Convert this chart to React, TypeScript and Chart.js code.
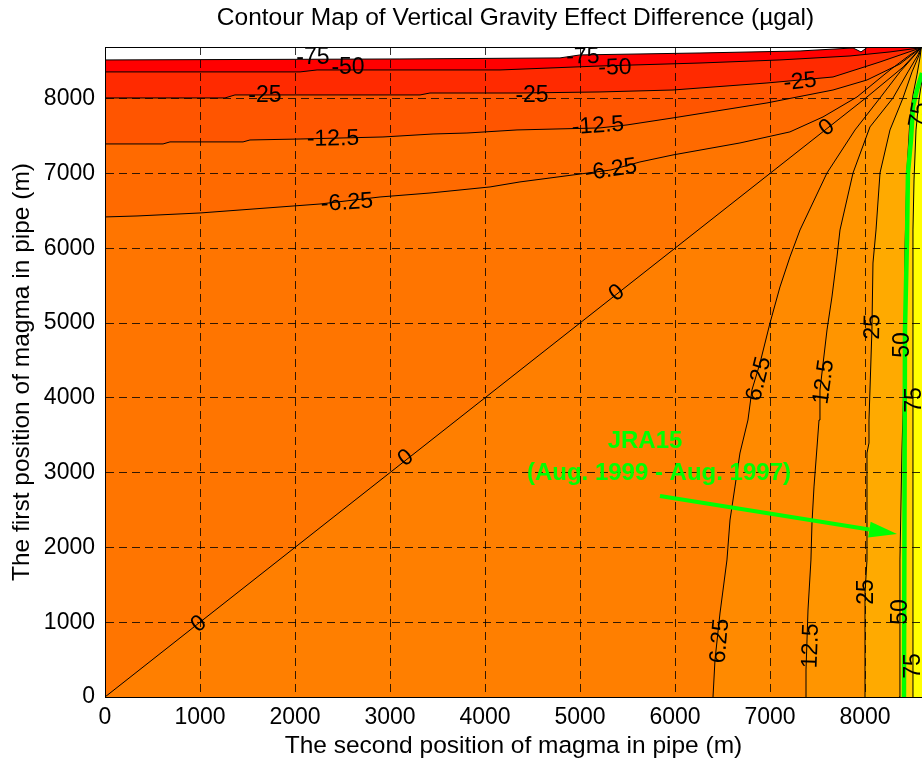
import React, { useEffect, useRef } from 'react';
import { Chart, registerables } from 'chart.js';

Chart.register(...registerables);

const FONT = '"Liberation Sans", Arial, Helvetica, sans-serif';

type Pt = [number, number];

// axis extents (m)
const X_MAX = 8600;
const Y_MAX = 8690;
const GRID_MAX = 8700;
const X_TICKS = [0, 1000, 2000, 3000, 4000, 5000, 6000, 7000, 8000];
const Y_TICKS = [0, 1000, 2000, 3000, 4000, 5000, 6000, 7000, 8000];

const TITLE = 'Contour Map of Vertical Gravity Effect Difference (µgal)';
const X_TITLE = 'The second position of magma in pipe (m)';
const Y_TITLE = 'The first position of magma in pipe (m)';

// contour levels (µgal) and fill colour of the region above each level
const LEVELS = [-75, -50, -25, -12.5, -6.25, 0, 6.25, 12.5, 25, 50, 75];
const LEVEL_COLORS = [
  '#FF0000', '#FF2A00', '#FF5500', '#FF6A00', '#FF7500', '#FF7F00',
  '#FF8A00', '#FF9500', '#FFAA00', '#FFD400', '#FFFF00',
];

// contour lines, [second position, first position]
const lineM75: Pt[] = [[0, 8517], [3105, 8530], [4789, 8544], [5000, 8584], [6263, 8610], [7316, 8637], [7874, 8677], [7958, 8624], [8052, 8710]];
const lineM50: Pt[] = [[0, 8357], [2053, 8357], [2232, 8383], [4158, 8383], [5210, 8436], [6263, 8476], [7105, 8517], [7842, 8570], [8263, 8624], [8590, 8680]];
const lineM25: Pt[] = [[0, 8009], [1263, 8009], [1368, 8049], [3316, 8049], [3421, 8075], [4368, 8075], [5210, 8089], [5979, 8115], [6968, 8209], [7663, 8289], [8158, 8490], [8590, 8680]];
const lineM12_5: Pt[] = [[0, 7394], [611, 7394], [684, 7421], [1453, 7421], [1526, 7447], [2053, 7460], [2926, 7487], [3453, 7527], [3810, 7540], [4337, 7581], [5210, 7608], [5495, 7648], [5979, 7742], [6968, 7942], [7663, 8115], [8021, 8249], [8368, 8463], [8590, 8680]];
const lineM6_25: Pt[] = [[0, 6418], [337, 6431], [1000, 6471], [1421, 6511], [1979, 6564], [2263, 6591], [2895, 6685], [3421, 6738], [4053, 6819], [4368, 6886], [5326, 7046], [5631, 7153], [5979, 7247], [6684, 7407], [7210, 7555], [7558, 7755], [7916, 8022], [8263, 8383], [8473, 8584], [8590, 8680]];
const line0: Pt[] = [[0, 0], [1000, 1000], [2000, 2000], [3000, 3000], [4000, 4000], [5000, 5000], [6000, 6000], [7000, 7000], [8000, 8000], [8400, 8420], [8590, 8680]];
const lineP6_25: Pt[] = [[6400, 0], [6421, 495], [6474, 1123], [6547, 1832], [6579, 2366], [6631, 2808], [6684, 3262], [6768, 3703], [6810, 4104], [6895, 4465], [7000, 5000], [7105, 5482], [7210, 5883], [7316, 6244], [7600, 7006], [7895, 7581], [8158, 8009], [8368, 8357], [8526, 8584], [8590, 8680]];
const lineP12_5: Pt[] = [[7379, 0], [7379, 361], [7400, 1163], [7431, 1832], [7442, 2326], [7463, 2808], [7495, 3342], [7516, 3703], [7526, 4104], [7600, 4907], [7652, 5348], [7705, 5883], [7737, 6244], [7874, 7006], [8052, 7621], [8295, 8009], [8452, 8357], [8558, 8584], [8590, 8680]];
const lineP25: Pt[] = [[8000, 0], [8000, 1390], [8021, 1832], [8021, 3262], [8042, 3396], [8042, 3703], [8073, 4907], [8084, 5802], [8116, 6244], [8158, 7006], [8263, 7581], [8400, 8009], [8495, 8357], [8570, 8584], [8590, 8680]];
const lineP50: Pt[] = [[8358, 0], [8368, 1832], [8389, 3302], [8410, 4238], [8421, 5976], [8442, 7046], [8473, 7714], [8505, 8049], [8547, 8317], [8580, 8557], [8592, 8680]];
const lineP75: Pt[] = [[8505, 0], [8505, 6244], [8516, 6912], [8537, 7581], [8568, 7982], [8600, 8249], [8620, 8680]];

const CONTOURS: Pt[][] = [lineM75, lineM50, lineM25, lineM12_5, lineM6_25, line0, lineP6_25, lineP12_5, lineP25, lineP50, lineP75];

// observed JRA15 line
const greenLine: Pt[] = [[8410, 0], [8421, 4907], [8442, 6110], [8452, 7006], [8484, 7447], [8505, 7888], [8547, 8115], [8600, 8343], [8684, 8517]];

type Label = { text: string; x: number; y: number; rot: number };
const CONTOUR_LABELS: Label[] = [
  { text: '-75', x: 2189, y: 8544, rot: 0 },
  { text: '-50', x: 2558, y: 8410, rot: 0 },
  { text: '-75', x: 5031, y: 8557, rot: -2 },
  { text: '-50', x: 5368, y: 8410, rot: -2 },
  { text: '-25', x: 1684, y: 8035, rot: 0 },
  { text: '-25', x: 4495, y: 8035, rot: 0 },
  { text: '-25', x: 7316, y: 8223, rot: -6 },
  { text: '-12.5', x: 2400, y: 7460, rot: -1 },
  { text: '-12.5', x: 5189, y: 7634, rot: -4 },
  { text: '-6.25', x: 2547, y: 6605, rot: -4 },
  { text: '-6.25', x: 5326, y: 7046, rot: -9 },
  { text: '0', x: 989, y: 976, rot: -38 },
  { text: '0', x: 3168, y: 3196, rot: -38 },
  { text: '0', x: 5389, y: 5401, rot: -38 },
  { text: '0', x: 7600, y: 7608, rot: -38 },
  { text: '6.25', x: 6884, y: 4251, rot: -76 },
  { text: '6.25', x: 6474, y: 749, rot: -85 },
  { text: '12.5', x: 7568, y: 4212, rot: -82 },
  { text: '12.5', x: 7431, y: 682, rot: -88 },
  { text: '25', x: 8084, y: 4947, rot: -89 },
  { text: '25', x: 8021, y: 1404, rot: -90 },
  { text: '50', x: 8400, y: 4707, rot: -90 },
  { text: '50', x: 8379, y: 1137, rot: -90 },
  { text: '75', x: 8526, y: 3971, rot: -90 },
  { text: '75', x: 8516, y: 414, rot: -90 },
  { text: '75', x: 8568, y: 7782, rot: -80 },
];

const NOTE_TITLE = 'JRA15';
const NOTE_PERIOD = '(Aug. 1999 - Aug. 1997)';
const NOTE_TITLE_AT: Pt = [5684, 3423];
const NOTE_PERIOD_AT: Pt = [5831, 2995];
const ARROW_FROM: Pt = [5842, 2687];
const ARROW_TO: Pt = [8337, 2179];

function regionAbove(line: Pt[], level: number): Pt[] {
  const last = line[line.length - 1];
  if (level <= 0) return [...line, [GRID_MAX, last[1]], [GRID_MAX, 0], [0, 0]];
  return [...line, [GRID_MAX, last[1]], [GRID_MAX, 0]];
}

const toXY = (pts: Pt[]) => pts.map(([x, y]) => ({ x, y }));

const overlayPlugin = {
  id: 'overlay',
  afterDraw(chart: any) {
    const { ctx, chartArea } = chart;
    const xs = chart.scales.x;
    const ys = chart.scales.y;
    const px = (p: Pt): Pt => [xs.getPixelForValue(p[0]), ys.getPixelForValue(p[1])];
    ctx.save();
    // contour labels
    ctx.fillStyle = '#000';
    ctx.font = `23px ${FONT}`;
    ctx.textAlign = 'center';
    ctx.textBaseline = 'middle';
    for (const l of CONTOUR_LABELS) {
      const [x, y] = px([l.x, l.y]);
      ctx.save();
      ctx.translate(x, y);
      ctx.rotate((l.rot * Math.PI) / 180);
      ctx.fillText(l.text, 0, 0);
      ctx.restore();
    }
    // arrow
    const [ax, ay] = px(ARROW_FROM);
    const [bx, by] = px(ARROW_TO);
    const ang = Math.atan2(by - ay, bx - ax);
    const c = Math.cos(ang);
    const s = Math.sin(ang);
    const headLen = 28;
    const headW = 8;
    ctx.strokeStyle = '#00FF00';
    ctx.lineWidth = 4;
    ctx.beginPath();
    ctx.moveTo(ax, ay);
    ctx.lineTo(bx - headLen * c, by - headLen * s);
    ctx.stroke();
    ctx.fillStyle = '#00FF00';
    ctx.beginPath();
    ctx.moveTo(bx, by);
    ctx.lineTo(bx - headLen * c + headW * s, by - headLen * s - headW * c);
    ctx.lineTo(bx - headLen * c - headW * s, by - headLen * s + headW * c);
    ctx.closePath();
    ctx.fill();
    // annotation
    ctx.font = `bold 24px ${FONT}`;
    const [t1x, t1y] = px(NOTE_TITLE_AT);
    ctx.fillText(NOTE_TITLE, t1x, t1y);
    const [t2x, t2y] = px(NOTE_PERIOD_AT);
    ctx.fillText(NOTE_PERIOD, t2x, t2y);
    // title
    ctx.fillStyle = '#000';
    ctx.font = `24.5px ${FONT}`;
    ctx.textBaseline = 'alphabetic';
    ctx.fillText(TITLE, (chartArea.left + chartArea.right) / 2 + 2, 25);
    ctx.restore();
  },
};

export default function App() {
  const ref = useRef<HTMLCanvasElement>(null);
  useEffect(() => {
    if (!ref.current) return;
    Chart.defaults.font.family = FONT;

    const polygons = CONTOURS.map((line, i) => ({
      data: toXY(regionAbove(line, LEVELS[i])),
      showLine: true,
      fill: 'shape',
      backgroundColor: LEVEL_COLORS[i],
      borderColor: 'rgba(0,0,0,0)',
      borderWidth: 0,
      pointRadius: 0,
      order: 100 - i,
    }));
    const lines = CONTOURS.map((line) => ({
      data: toXY(line),
      showLine: true,
      fill: false,
      borderColor: '#000',
      borderWidth: 1,
      pointRadius: 0,
      order: 10,
    }));
    const green = {
      data: toXY(greenLine),
      showLine: true,
      fill: false,
      borderColor: '#00FF00',
      borderWidth: 4.5,
      pointRadius: 0,
      order: 5,
    };

    const gridColor = 'rgba(0,0,0,0.8)';
    const chart = new Chart(ref.current, {
      type: 'scatter',
      data: { datasets: [...polygons, ...lines, green] as any },
      options: {
        responsive: false,
        animation: false,
        devicePixelRatio: 1,
        events: [],
        layout: { padding: 0 },
        elements: { point: { radius: 0 }, line: { tension: 0 } },
        plugins: { legend: { display: false }, tooltip: { enabled: false }, title: { display: false } },
        scales: {
          x: {
            type: 'linear',
            position: 'bottom',
            min: 0,
            max: X_MAX,
            afterBuildTicks: (sc: any) => { sc.ticks = X_TICKS.map((v) => ({ value: v })); },
            afterFit: (sc: any) => { sc.height = 72; },
            ticks: { z: 1, color: '#000', font: { size: 23, family: FONT }, padding: 7, maxRotation: 0, autoSkip: false, callback: (v: any) => String(v) },
            grid: { z: 1, color: gridColor, lineWidth: 1, drawTicks: false },
            border: { z: 2, display: true, color: '#000', width: 1, dash: [8, 5] },
            title: { display: true, text: X_TITLE, color: '#000', font: { size: 24.5, family: FONT }, padding: { top: 0, bottom: 8 } },
          },
          x2: {
            type: 'linear',
            position: 'top',
            min: 0,
            max: X_MAX,
            afterFit: (sc: any) => { sc.height = 47; },
            ticks: { display: false },
            grid: { display: false, drawTicks: false },
            border: { z: 2, display: true, color: '#000', width: 1 },
          },
          y: {
            type: 'linear',
            position: 'left',
            min: 0,
            max: Y_MAX,
            afterBuildTicks: (sc: any) => { sc.ticks = Y_TICKS.map((v) => ({ value: v })); },
            afterFit: (sc: any) => { sc.width = 105; },
            ticks: { z: 1, color: '#000', font: { size: 23, family: FONT }, padding: 10, autoSkip: false, callback: (v: any) => String(v) },
            grid: { z: 1, color: gridColor, lineWidth: 1, drawTicks: false },
            border: { z: 2, display: true, color: '#000', width: 1, dash: [8, 5] },
            title: { display: true, text: Y_TITLE, color: '#000', font: { size: 24.5, family: FONT }, padding: { top: 8, bottom: 0 } },
          },
        },
      } as any,
      plugins: [overlayPlugin],
    });
    return () => chart.destroy();
  }, []);

  return (
    <div style={{ position: 'absolute', left: 0, top: 0, width: 922, height: 769 }}>
      <canvas ref={ref} width={922} height={769} style={{ display: 'block', width: 922, height: 769 }} />
    </div>
  );
}
